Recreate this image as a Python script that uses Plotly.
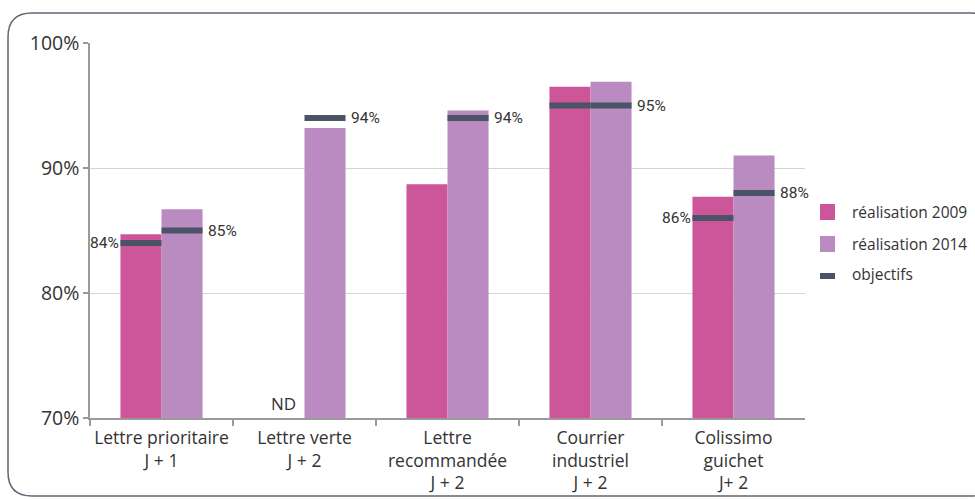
import plotly.graph_objects as go

# Delivery quality indicators: 2009 vs 2014 results against targets
categories = [
    "Lettre prioritaire<br>J + 1",
    "Lettre verte<br>J + 2",
    "Lettre<br>recommandée<br>J + 2",
    "Courrier<br>industriel<br>J + 2",
    "Colissimo<br>guichet<br>J+ 2",
]
real_2009 = [84.7, None, 88.7, 96.5, 87.7]
real_2014 = [86.7, 93.2, 94.6, 96.9, 91.0]
target_2009 = [84, None, None, 95, 86]
target_2014 = [85, 94, 94, 95, 88]
legend_labels = ["réalisation 2009", "réalisation 2014", "objectifs"]

C2009 = "#cd5599"
C2014 = "#b98bc0"
CTGT = "#4b5466"
TXT = "#333333"
AXIS = "#9a9a9a"
BASE = 70
BW = 0.287  # bar width in category units
MAIN_FONT = "Open Sans, Noto Sans, sans-serif"

x = list(range(len(categories)))


def heights(vals):
    return [None if v is None else v - BASE for v in vals]


fig = go.Figure()
fig.add_trace(go.Bar(x=x, y=heights(real_2009), base=BASE, width=BW, offset=-BW,
                     marker=dict(color=C2009, line=dict(width=0)),
                     name=legend_labels[0], showlegend=False,
                     customdata=real_2009, hovertemplate="%{customdata}%<extra></extra>"))
fig.add_trace(go.Bar(x=x, y=heights(real_2014), base=BASE, width=BW, offset=0,
                     marker=dict(color=C2014, line=dict(width=0)),
                     name=legend_labels[1], showlegend=False,
                     customdata=real_2014, hovertemplate="%{customdata}%<extra></extra>"))

# target markers: one segment across each bar
tx, ty = [], []
for i in x:
    if target_2009[i] is not None:
        tx += [i - BW, i, None]
        ty += [target_2009[i], target_2009[i], None]
    if target_2014[i] is not None:
        tx += [i, i + BW, None]
        ty += [target_2014[i], target_2014[i], None]
fig.add_trace(go.Scatter(x=tx, y=ty, mode="lines",
                         line=dict(color=CTGT, width=6),
                         name=legend_labels[2], showlegend=False, hoverinfo="skip"))

annotations = []
lab_font = dict(family="Roboto, sans-serif", size=15.5, color=TXT)
for i in x:
    t14 = target_2014[i]
    t09 = target_2009[i]
    if t14 is not None:
        annotations.append(dict(x=i + BW, y=t14, xref="x", yref="y", text=f"{t14}%",
                                showarrow=False, xanchor="left", yanchor="middle",
                                xshift=3, font=lab_font))
    if t09 is not None and t09 != t14:
        annotations.append(dict(x=i - BW, y=t09, xref="x", yref="y", text=f"{t09}%",
                                showarrow=False, xanchor="right", yanchor="middle",
                                xshift=1, font=lab_font))
    if real_2009[i] is None:
        annotations.append(dict(x=i - BW / 2, y=BASE, xref="x", yref="y", text="ND",
                                showarrow=False, xanchor="center", yanchor="bottom",
                                yshift=1, font=dict(family=MAIN_FONT, size=17, color=TXT)))

# legend drawn in pixel-derived paper coordinates
W, H = 975, 500
L, R, T, B = 90, 170, 43, 82
PW, PH = W - L - R, H - T - B


def px(xp):
    return (xp - L) / PW


def py(yp):
    return (H - B - yp) / PH


shapes = []
leg_items = [(C2009, 204, 220, 212), (C2014, 236, 252, 244), (CTGT, 273, 279, 274)]
for (col, y0, y1, yt), lab in zip(leg_items, legend_labels):
    shapes.append(dict(type="rect", xref="paper", yref="paper",
                       x0=px(820), x1=px(835), y0=py(y1), y1=py(y0),
                       fillcolor=col, line=dict(width=0)))
    annotations.append(dict(x=px(850), y=py(yt), xref="paper", yref="paper", text=lab,
                            showarrow=False, xanchor="left", yanchor="middle",
                            font=dict(family=MAIN_FONT, size=15.5, color=TXT)))

# rounded frame around the chart
fx0, fy0, fx1, fy1, r = 8, 13, 995, 496, 24
path = (f"M {px(fx0)},{py(fy0 + r)} "
        f"Q {px(fx0)},{py(fy0)} {px(fx0 + r)},{py(fy0)} "
        f"L {px(fx1 - r)},{py(fy0)} "
        f"Q {px(fx1)},{py(fy0)} {px(fx1)},{py(fy0 + r)} "
        f"L {px(fx1)},{py(fy1 - r)} "
        f"Q {px(fx1)},{py(fy1)} {px(fx1 - r)},{py(fy1)} "
        f"L {px(fx0 + r)},{py(fy1)} "
        f"Q {px(fx0)},{py(fy1)} {px(fx0)},{py(fy1 - r)} Z")
shapes.append(dict(type="path", xref="paper", yref="paper", path=path,
                   line=dict(color="#5f6674", width=1.5), layer="below"))

fig.update_layout(
    width=W, height=H,
    margin=dict(l=L, r=R, t=T, b=B, pad=0, autoexpand=False),
    paper_bgcolor="white", plot_bgcolor="white",
    barmode="overlay",
    showlegend=False,
    shapes=shapes,
    annotations=annotations,
    xaxis=dict(range=[-0.5, 4.5], tickvals=x, ticktext=categories,
               showgrid=False, zeroline=False, ticks="", automargin=False,
               showline=True, linecolor=AXIS, linewidth=1.5,
               tickfont=dict(family=MAIN_FONT, size=17.5, color=TXT),
               ticklabelstandoff=3,
               minor=dict(tickvals=[-0.5, 0.5, 1.5, 2.5, 3.5], ticks="outside",
                          ticklen=6, tickcolor=AXIS, tickwidth=1.5, showgrid=False),
               fixedrange=True),
    yaxis=dict(range=[70, 100], tickvals=[70, 80, 90, 100],
               ticktext=["70%", "80%", "90%", "100%"], automargin=False,
               showgrid=True, gridcolor="#d4d4d4", gridwidth=1,
               zeroline=False, showline=True, linecolor=AXIS, linewidth=1.5,
               ticks="outside", ticklen=5, tickcolor=AXIS, tickwidth=1.5,
               tickfont=dict(family=MAIN_FONT, size=19.5, color=TXT),
               fixedrange=True),
)

fig.write_html("out.html")
